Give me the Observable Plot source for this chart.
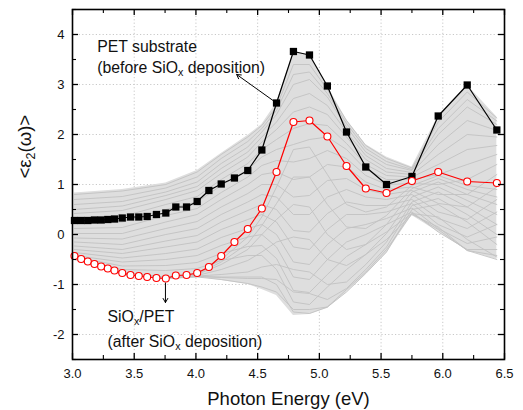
<!DOCTYPE html>
<html>
<head>
<meta charset="utf-8">
<script src="https://cdn.jsdelivr.net/npm/d3@7"></script>
<script src="https://cdn.jsdelivr.net/npm/@observablehq/plot@0.6"></script>
<style>
  html, body { margin: 0; padding: 0; background: #fff; }
  #chart { width: 523px; height: 410px; }
</style>
</head>
<body>
<div id="chart"></div>
<script>
// Photon energy (eV) of the measured points
const energy = [3.016, 3.07, 3.124, 3.178, 3.232, 3.286, 3.34, 3.403, 3.47, 3.537, 3.605, 3.68, 3.756, 3.837, 3.924, 4.01,
  4.105, 4.205, 4.312, 4.42, 4.534, 4.653, 4.79, 4.92, 5.065, 5.22, 5.376, 5.544, 5.75, 5.963, 6.198, 6.438];
// PET substrate (before SiOx deposition)
const petValues = [0.28, 0.28, 0.28, 0.29, 0.29, 0.30, 0.31, 0.33, 0.35, 0.35, 0.36, 0.40, 0.43, 0.55, 0.55, 0.66,
  0.88, 1.01, 1.13, 1.28, 1.69, 2.63, 3.66, 3.59, 2.97, 2.05, 1.35, 1.00, 1.16, 2.37, 2.99, 2.09];
// SiOx/PET (after SiOx deposition)
const sioxValues = [-0.43, -0.49, -0.54, -0.59, -0.64, -0.68, -0.72, -0.77, -0.81, -0.83, -0.85, -0.87, -0.88, -0.82, -0.81, -0.77,
  -0.65, -0.43, -0.15, 0.11, 0.52, 1.25, 2.25, 2.28, 1.96, 1.37, 0.92, 0.83, 1.07, 1.25, 1.06, 1.03];

// In-situ intermediate spectra (grey), read at a coarser energy grid
const grayEnergy = [3.016, 3.403, 3.756, 4.01, 4.205, 4.42, 4.534, 4.653, 4.79, 4.92, 5.065, 5.22, 5.376, 5.544, 5.75, 5.963, 6.198, 6.438];
const grayUpper = [0.83, 0.90, 1.03, 1.28, 1.62, 1.98, 2.20, 2.63, 3.66, 3.59, 2.97, 2.30, 1.80, 1.55, 1.35, 2.37, 2.99, 2.35];
const grayLower = [-0.43, -0.77, -0.88, -0.85, -0.92, -1.00, -1.10, -1.22, -1.62, -1.60, -1.48, -1.16, -0.80, -0.38, 0.38, 0.05, -0.32, -0.50];
const gray1  = [0.80, 0.87, 1.00, 1.25, 1.60, 1.95, 2.18, 2.55, 3.40, 3.40, 2.90, 2.28, 1.78, 1.52, 1.33, 2.25, 2.85, 2.33];
const gray2  = [0.70, 0.76, 0.93, 1.15, 1.52, 1.86, 2.12, 2.48, 3.20, 3.25, 2.82, 2.22, 1.72, 1.46, 1.30, 2.12, 2.70, 2.27];
const gray3  = [0.60, 0.66, 0.85, 1.05, 1.42, 1.75, 2.05, 2.40, 3.00, 3.10, 2.75, 2.15, 1.65, 1.40, 1.28, 2.00, 2.55, 2.20];
const gray4  = [0.50, 0.57, 0.78, 0.96, 1.32, 1.65, 1.95, 2.25, 2.72, 2.82, 2.58, 2.05, 1.58, 1.32, 1.24, 1.80, 2.28, 2.08];
const gray5  = [0.42, 0.48, 0.70, 0.88, 1.22, 1.55, 1.85, 2.10, 2.45, 2.55, 2.40, 1.95, 1.50, 1.25, 1.20, 1.60, 2.00, 1.95];
const gray6  = [0.32, 0.36, 0.60, 0.76, 1.10, 1.42, 1.70, 1.90, 2.12, 2.22, 2.18, 1.82, 1.40, 1.18, 1.15, 1.40, 1.70, 1.78];
const gray7  = [0.22, 0.25, 0.50, 0.65, 0.98, 1.30, 1.55, 1.70, 1.80, 1.90, 1.95, 1.70, 1.30, 1.10, 1.10, 1.20, 1.40, 1.60];
const gray8  = [0.12, 0.14, 0.38, 0.52, 0.84, 1.15, 1.38, 1.48, 1.45, 1.52, 1.68, 1.52, 1.18, 1.00, 1.02, 1.00, 1.10, 1.40];
const gray9  = [0.02, 0.02, 0.25, 0.40, 0.70, 1.00, 1.20, 1.25, 1.10, 1.15, 1.40, 1.35, 1.05, 0.90, 0.95, 0.80, 0.80, 1.20];
const gray10 = [-0.07, -0.09, 0.12, 0.26, 0.55, 0.82, 1.00, 1.00, 0.75, 0.78, 1.08, 1.12, 0.90, 0.80, 0.88, 0.62, 0.55, 0.95];
const gray11 = [-0.15, -0.20, 0.00, 0.12, 0.40, 0.65, 0.80, 0.75, 0.40, 0.40, 0.75, 0.90, 0.75, 0.70, 0.80, 0.45, 0.30, 0.70];
const gray12 = [-0.23, -0.30, -0.13, -0.02, 0.25, 0.48, 0.60, 0.50, 0.08, 0.05, 0.42, 0.65, 0.58, 0.58, 0.70, 0.32, 0.12, 0.45];
const gray13 = [-0.30, -0.38, -0.25, -0.15, 0.10, 0.30, 0.40, 0.25, -0.25, -0.30, 0.10, 0.40, 0.40, 0.45, 0.62, 0.20, -0.05, 0.20];
const gray14 = [-0.36, -0.47, -0.38, -0.29, -0.06, 0.12, 0.20, 0.00, -0.55, -0.60, -0.20, 0.12, 0.20, 0.32, 0.53, 0.12, -0.18, -0.05];
const gray15 = [-0.42, -0.55, -0.50, -0.42, -0.22, -0.05, 0.00, -0.25, -0.85, -0.90, -0.50, -0.15, 0.00, 0.20, 0.45, 0.05, -0.30, -0.30];
const gray16 = [-0.45, -0.63, -0.62, -0.56, -0.38, -0.24, -0.22, -0.48, -1.12, -1.16, -0.80, -0.44, -0.20, 0.05, 0.42, 0.10, -0.32, -0.42];
const gray17 = [-0.48, -0.70, -0.72, -0.68, -0.52, -0.42, -0.42, -0.70, -1.35, -1.40, -1.05, -0.70, -0.40, -0.10, 0.40, 0.15, -0.32, -0.50];
const gray18 = [-0.50, -0.78, -0.86, -0.84, -0.85, -0.85, -0.85, -1.00, -1.55, -1.58, -1.45, -1.10, -0.75, -0.30, 0.42, 0.35, -0.10, -0.45];
const gray19 = [-0.48, -0.80, -0.88, -0.85, -0.90, -0.98, -1.05, -1.15, -1.50, -1.50, -1.45, -1.15, -0.78, -0.35, 0.50, 0.60, 0.25, -0.20];
const gray20 = [-0.47, -0.80, -0.88, -0.84, -0.86, -0.88, -0.88, -0.90, -1.15, -1.18, -1.30, -1.08, -0.70, -0.25, 0.58, 0.72, 0.40, 0.00];
const gray21 = [-0.46, -0.79, -0.87, -0.83, -0.80, -0.75, -0.65, -0.60, -0.70, -0.75, -1.00, -0.95, -0.60, -0.15, 0.65, 0.85, 0.55, 0.20];
const gray22 = [-0.45, -0.78, -0.86, -0.82, -0.70, -0.52, -0.35, -0.15, -0.05, -0.10, -0.50, -0.62, -0.40, 0.02, 0.75, 0.95, 0.68, 0.40];
const gray23 = [-0.44, -0.78, -0.86, -0.80, -0.60, -0.30, 0.00, 0.30, 0.60, 0.55, 0.00, -0.30, -0.20, 0.20, 0.85, 1.05, 0.80, 0.60];
const gray24 = [-0.43, -0.77, -0.85, -0.79, -0.55, -0.18, 0.18, 0.62, 1.15, 1.15, 0.60, 0.15, 0.12, 0.38, 0.92, 1.12, 0.90, 0.75];
const gray25 = [-0.43, -0.77, -0.85, -0.78, -0.50, -0.05, 0.35, 0.95, 1.70, 1.75, 1.20, 0.60, 0.45, 0.55, 0.98, 1.18, 0.98, 0.90];

// Axis ticks
const xMajorTicks = [3.0, 3.5, 4.0, 4.5, 5.0, 5.5, 6.0, 6.5];
const xMinorTicks = [3.25, 3.75, 4.25, 4.75, 5.25, 5.75, 6.25];
const yMajorTicks = [-2, -1, 0, 1, 2, 3, 4];
const yMinorTicks = [-2.5, -1.5, -0.5, 0.5, 1.5, 2.5, 3.5, 4.5];

// Annotations
const annotations = [
  {x: 3.2, y: 3.76, text: "PET substrate"},
  {x: 3.2, y: 3.34, text: "(before SiO_x deposition)"},
  {x: 3.284, y: -1.65, text: "SiO_x/PET"},
  {x: 3.284, y: -2.15, text: "(after SiO_x deposition)"}
];
const arrows = [
  {x1: 4.653, y1: 2.63, x2: 4.33, y2: 3.2},
  {x1: 3.753, y1: -0.97, x2: 3.753, y2: -1.36}
];

const pet = energy.map((e, i) => ({E: e, v: petValues[i]}));
const siox = energy.map((e, i) => ({E: e, v: sioxValues[i]}));
const grayCurves = [gray1, gray2, gray3, gray4, gray5, gray6, gray7, gray8, gray9, gray10, gray11, gray12, gray13,
  gray14, gray15, gray16, gray17, gray18, gray19, gray20, gray21, gray22, gray23, gray24, gray25];
const grayRows = grayCurves.flatMap((c, k) => c.map((v, j) => ({E: grayEnergy[j], v, k})));
const band = grayEnergy.map((e, j) => ({E: e, lo: grayLower[j], hi: grayUpper[j]}));

const W = 523, H = 410, mT = 9, mB = 51, mL = 72, mR = 19;
const innerH = H - mT - mB, innerW = W - mL - mR;
const font = "'Liberation Sans', Arial, Helvetica, sans-serif";

const plot = Plot.plot({
  width: W, height: H,
  marginTop: mT, marginBottom: mB, marginLeft: mL, marginRight: mR,
  style: {fontFamily: font, fontSize: "13px", color: "#111", background: "#fff"},
  x: {domain: [3, 6.5], ticks: xMajorTicks, tickFormat: d => d.toFixed(1), tickSize: 0, tickPadding: 9, label: null},
  y: {domain: [-2.5, 4.5], ticks: yMajorTicks, tickFormat: d => String(d), tickSize: 0, tickPadding: 8, label: null},
  marks: [
    // dotted grid
    Plot.ruleX(xMajorTicks.slice(1, -1), {stroke: "#c8c8c8", strokeDasharray: "1.2,2.2", strokeWidth: 1}),
    Plot.ruleY(yMajorTicks, {stroke: "#c8c8c8", strokeDasharray: "1.2,2.2", strokeWidth: 1}),
    // grey in-situ spectra
    Plot.areaY(band, {x: "E", y1: "lo", y2: "hi", fill: "#dedede"}),
    Plot.line(grayRows, {x: "E", y: "v", z: "k", stroke: "#c2c2c2", strokeWidth: 0.9}),
    // PET substrate
    Plot.line(pet, {x: "E", y: "v", stroke: "#000", strokeWidth: 1.2}),
    Plot.dot(pet, {x: "E", y: "v", symbol: "square", r: 4.1, fill: "#000", stroke: "none"}),
    // SiOx/PET
    Plot.line(siox, {x: "E", y: "v", stroke: "#ff0000", strokeWidth: 1.2}),
    Plot.dot(siox, {x: "E", y: "v", symbol: "circle", r: 3.5, fill: "#fff", stroke: "#ff0000", strokeWidth: 1.1}),
    // annotations
    Plot.arrow(arrows, {x1: "x1", y1: "y1", x2: "x2", y2: "y2", stroke: "#000", strokeWidth: 1, headLength: 7}),
    Plot.text(annotations, {x: "x", y: "y", text: "text", textAnchor: "start", lineAnchor: "middle", fontSize: 15.8, fill: "#111"}),
    // frame and inward ticks
    Plot.frame({stroke: "#000", strokeWidth: 1.6}),
    Plot.ruleX(xMajorTicks, {insetTop: innerH - 6, stroke: "#000", strokeWidth: 1.3}),
    Plot.ruleX(xMajorTicks, {insetBottom: innerH - 6, stroke: "#000", strokeWidth: 1.3}),
    Plot.ruleX(xMinorTicks, {insetTop: innerH - 4, stroke: "#000", strokeWidth: 1.1}),
    Plot.ruleX(xMinorTicks, {insetBottom: innerH - 4, stroke: "#000", strokeWidth: 1.1}),
    Plot.ruleY(yMajorTicks, {insetRight: innerW - 6, stroke: "#000", strokeWidth: 1.3}),
    Plot.ruleY(yMajorTicks, {insetLeft: innerW - 6, stroke: "#000", strokeWidth: 1.3}),
    Plot.ruleY(yMinorTicks, {insetRight: innerW - 4, stroke: "#000", strokeWidth: 1.1}),
    Plot.ruleY(yMinorTicks, {insetLeft: innerW - 4, stroke: "#000", strokeWidth: 1.1}),
    // axis titles
    Plot.text(["Photon Energy (eV)"], {frameAnchor: "bottom", dy: 40, fontSize: 18.5, fill: "#111", lineAnchor: "middle"}),
    Plot.text(["<ε_2(ω)>"], {frameAnchor: "left", rotate: -90, dx: -47, dy: -6, fontSize: 18.5, fill: "#111", lineAnchor: "middle"})
  ]
});

// turn "_c" markers into real subscripts
plot.querySelectorAll("text").forEach(t => {
  const s = t.textContent;
  if (!s.includes("_") || t.querySelector("tspan")) return;
  const parts = s.split(/_(.)/);
  t.textContent = "";
  const ns = "http://www.w3.org/2000/svg";
  let shifted = false;
  parts.forEach((p, i) => {
    if (p === "") return;
    const ts = document.createElementNS(ns, "tspan");
    ts.textContent = p;
    if (i % 2 === 1) {
      ts.setAttribute("dy", "0.3em");
      ts.setAttribute("font-size", "0.68em");
      shifted = true;
    } else if (shifted) {
      ts.setAttribute("dy", "-0.204em");
      shifted = false;
    }
    t.appendChild(ts);
  });
});

document.getElementById("chart").appendChild(plot);
</script>
</body>
</html>
